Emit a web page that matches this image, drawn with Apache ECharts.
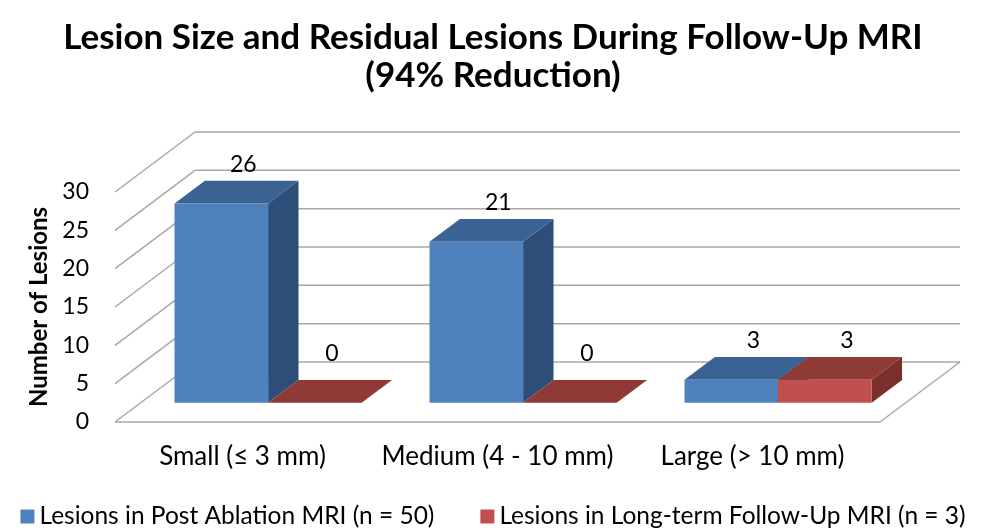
<!DOCTYPE html>
<html>
<head>
<meta charset="utf-8">
<script src="https://cdn.jsdelivr.net/npm/echarts@6/dist/echarts.min.js"></script>
<style>
  html, body { margin: 0; padding: 0; background: #fff; }
  #chart { width: 986px; height: 529px; }
</style>
</head>
<body>
<div id="chart"></div>
<script>
// Categories, series values and value-axis ticks
const categories = ['Small (≤ 3 mm)', 'Medium (4 - 10 mm)', 'Large (> 10 mm)'];
const seriesNames = ['Lesions in Post Ablation MRI (n = 50)', 'Lesions in Long-term Follow-Up MRI (n = 3)'];
const postAblation = [26, 21, 3];
const longTermFollowUp = [0, 0, 3];
const valueTicks = [0, 5, 10, 15, 20, 25, 30];

// Oblique projection of the depth axis (pixels from front plane to back wall)
const DEPTH_X = 80;
const DEPTH_Y = -60;
const FRONT_DEPTH = 0.32;   // depth fraction where bar front faces sit
const BAR_DEPTH = 0.38;     // bar thickness as a fraction of total depth
const BAR_FRAC = 0.367;     // bar width as a fraction of the category band

const FONT = 'Lato, "Open Sans", sans-serif';
const GRID_COLOR = '#A8A8A8';

const palettes = [
  { front: '#4F81BD', top: '#3A6293', side: '#2D4E78' },
  { front: '#C0504D', top: '#8F3A37', side: '#7A2F2D' }
];

// Back wall gridlines, side wall diagonals and floor outline
function renderFrame(params, api) {
  const cs = params.coordSys;
  const v = api.value(1);
  const y = api.coord([0, v])[1];
  const style = { stroke: GRID_COLOR, lineWidth: 1.5, fill: null };
  const children = [
    { type: 'line', shape: { x1: cs.x, y1: y, x2: cs.x + DEPTH_X, y2: y + DEPTH_Y }, style },
    { type: 'line', shape: { x1: cs.x + DEPTH_X, y1: y + DEPTH_Y, x2: cs.x + cs.width + DEPTH_X, y2: y + DEPTH_Y }, style }
  ];
  if (v === 0) {
    children.push(
      { type: 'line', shape: { x1: cs.x, y1: y, x2: cs.x + cs.width, y2: y }, style },
      { type: 'line', shape: { x1: cs.x + cs.width, y1: y, x2: cs.x + cs.width + DEPTH_X, y2: y + DEPTH_Y }, style }
    );
  }
  return { type: 'group', children };
}

// 3D box for one bar: right side, top and front faces, plus value label
function makeBarRenderer(seriesIdx) {
  const pal = palettes[seriesIdx];
  return function (params, api) {
    const cat = api.value(0);
    const val = api.value(1);
    const band = api.size([1, 0])[0];
    const w = band * BAR_FRAC;
    const base = api.coord([cat, 0]);
    const top = api.coord([cat, val]);
    const fx = base[0] - w + seriesIdx * w + DEPTH_X * FRONT_DEPTH;
    const fy0 = base[1] + DEPTH_Y * FRONT_DEPTH;
    const fy1 = top[1] + DEPTH_Y * FRONT_DEPTH;
    const bx = DEPTH_X * BAR_DEPTH;
    const by = DEPTH_Y * BAR_DEPTH;
    const children = [
      { type: 'polygon', shape: { points: [[fx + w, fy1], [fx + w + bx, fy1 + by], [fx + w + bx, fy0 + by], [fx + w, fy0]] },
        style: { fill: pal.side } },
      { type: 'polygon', shape: { points: [[fx, fy1], [fx + bx, fy1 + by], [fx + w + bx, fy1 + by], [fx + w, fy1]] },
        style: { fill: pal.top } }
    ];
    if (fy0 - fy1 > 0) {
      children.push({ type: 'rect', shape: { x: fx, y: fy1, width: w, height: fy0 - fy1 }, style: { fill: pal.front } });
    }
    const flat = val === 0;
    children.push({
      type: 'text',
      style: {
        text: String(val),
        x: fx + w / 2 + (flat ? 17 : 22),
        y: fy1 + by - (flat ? 26 : 16),
        align: 'center',
        verticalAlign: 'middle',
        font: '23px ' + FONT,
        fill: '#000'
      }
    });
    return { type: 'group', children };
  };
}

const chart = echarts.init(document.getElementById('chart'), null, { renderer: 'canvas' });

chart.setOption({
  animation: false,
  backgroundColor: '#fff',
  title: {
    text: 'Lesion Size and Residual Lesions During Follow-Up MRI\n(94% Reduction)',
    left: 'center',
    top: 14,
    textStyle: { fontFamily: FONT, fontWeight: 'bold', fontSize: 35, lineHeight: 38, color: '#000' }
  },
  legend: {
    left: 'center',
    top: 504,
    padding: 0,
    icon: 'rect',
    itemWidth: 14,
    itemHeight: 14,
    itemGap: 46,
    textStyle: { fontFamily: FONT, fontSize: 24.5, color: '#000' },
    data: seriesNames
  },
  grid: { left: 115, right: 106, top: 192, bottom: 107 },
  xAxis: {
    type: 'category',
    data: categories,
    axisLine: { show: false },
    axisTick: { show: false },
    splitLine: { show: false },
    axisLabel: { interval: 0, fontFamily: FONT, fontSize: 26, color: '#000', margin: 22 }
  },
  yAxis: {
    type: 'value',
    min: 0,
    max: 30,
    interval: 5,
    name: 'Number of Lesions',
    nameLocation: 'middle',
    nameRotate: 90,
    nameGap: 64,
    nameTextStyle: { fontFamily: FONT, fontWeight: 'bold', fontSize: 24, color: '#000' },
    axisLine: { show: false },
    axisTick: { show: false },
    splitLine: { show: false },
    axisLabel: { fontFamily: FONT, fontSize: 23, color: '#000', margin: 26 }
  },
  series: [
    {
      type: 'custom',
      name: 'frame',
      silent: true,
      z: 1,
      renderItem: renderFrame,
      encode: { x: 0, y: 1 },
      data: valueTicks.map(v => [0, v])
    },
    {
      type: 'custom',
      name: seriesNames[0],
      z: 2,
      itemStyle: { color: palettes[0].front },
      renderItem: makeBarRenderer(0),
      encode: { x: 0, y: 1 },
      data: postAblation.map((v, i) => [i, v])
    },
    {
      type: 'custom',
      name: seriesNames[1],
      z: 3,
      itemStyle: { color: palettes[1].front },
      renderItem: makeBarRenderer(1),
      encode: { x: 0, y: 1 },
      data: longTermFollowUp.map((v, i) => [i, v])
    }
  ]
});
</script>
</body>
</html>
